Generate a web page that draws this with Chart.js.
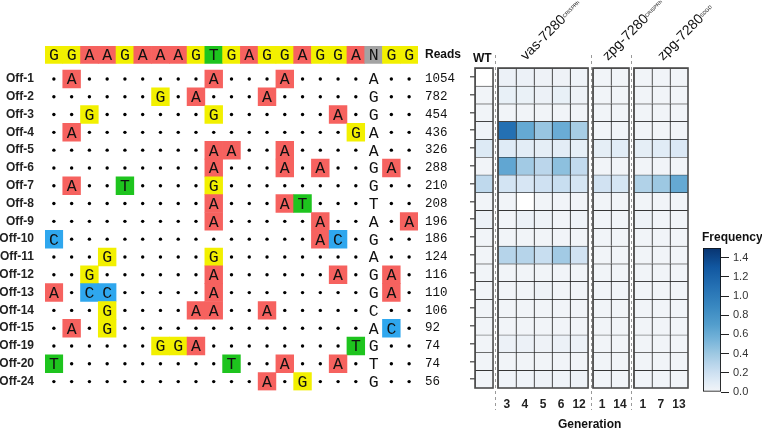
<!DOCTYPE html>
<html>
<head>
<meta charset="utf-8">
<script src="https://cdn.jsdelivr.net/npm/chart.js@4.4.1/dist/chart.umd.min.js"></script>
<style>
  html, body { margin: 0; padding: 0; background: #fff; overflow: hidden; }
  #fig { position: relative; width: 762px; height: 429px; overflow: hidden; font-family: "Liberation Sans", Arial, sans-serif; }
  canvas { position: absolute; }
  .lab { position: absolute; white-space: nowrap; color: #111; font-weight: bold; font-size: 12px; line-height: 14px; }
  .rot { position: absolute; white-space: nowrap; font-size: 14px; line-height: 15px; color: #111;
         transform: rotate(-45deg); transform-origin: 0 100%; }
  .rot sup { font-size: 5px; vertical-align: 3px; }
</style>
</head>
<body>
<div id="fig">
  <canvas id="seq" width="480" height="429" style="left:0;top:0"></canvas>
  <canvas id="heat" width="260" height="434" style="left:440px;top:0"></canvas>
  <canvas id="cbar" width="72" height="175" style="left:690px;top:230px"></canvas>
  <div class="lab" style="left:473px;top:51px">WT</div>
  <div class="rot" style="left:528px;top:48px">vas-7280<sup>CRISPRh</sup></div>
  <div class="rot" style="left:610px;top:48px">zpg-7280<sup>CRISPRh</sup></div>
  <div class="rot" style="left:665px;top:48px">zpg-7280<sup>SDGD</sup></div>
  <div class="lab" style="left:702px;top:230px">Frequency</div>
  <div class="lab" style="left:558px;top:417px">Generation</div>
</div>
<script>
  // target site (last three = PAM)
  const target = ['G','G','A','A','G','A','A','A','G','T','G','A','G','G','A','G','G','A','N','G','G'];
  const offLabels = ['Off-1','Off-2','Off-3','Off-4','Off-5','Off-6','Off-7','Off-8','Off-9',
    'Off-10','Off-11','Off-12','Off-13','Off-14','Off-15','Off-19','Off-20','Off-24'];
  const reads = [1054, 782, 454, 436, 326, 288, 210, 208, 196, 186, 124, 116, 110, 106, 92, 74, 74, 56];
  // '.' = matches target
  const offSeqs = [
    '.A.......A...A....A..',
    '......G.A...A.....G..',
    '..G......G......A.G..',
    '.A...............GA..',
    '.........AA..A....A..',
    '.........A...A.A..GA.',
    '.A..T....G........G..',
    '.........A...AT...T..',
    '.........A.....A..A.A',
    'C..............AC.G..',
    '...G.....G........A..',
    '..G......A......A.GA.',
    'A.CC.....A........GA.',
    '...G....AA..A.....C..',
    '.A.G..............AC.',
    '......GGA........TG..',
    'T.........T..A..A.T..',
    '............A.G...G..',
  ];

  // heatmap columns
  const colLabels = ['', '3', '4', '5', '6', '12', '1', '14', '1', '7', '13'];
  const colGroup = [0, 1, 1, 1, 1, 1, 2, 2, 3, 3, 3];
  // frequencies per row (Off-1 .. Off-24), null = no data
  const freqWT = [null, 0.01, 0.01, 0.02, 0.12, 0.01, 0.26, 0.01, 0.04, 0.01, 0.01, 0.01, 0.01, 0.01, 0.01, 0.01, 0.01, 0.01];
  const freqVas = [
    [0.04, 0.04, 0.03, 0.03, 0.02],
    [0.06, 0.05, 0.04, 0.06, 0.03],
    [0.01, 0.01, 0.01, 0.01, 0.01],
    [1.10, 0.62, 0.42, 0.60, 0.36],
    [0.11, 0.09, 0.08, 0.09, 0.07],
    [0.64, 0.38, 0.28, 0.46, 0.25],
    [0.17, 0.15, 0.19, 0.22, 0.16],
    [0.01, null, 0.01, 0.01, 0.01],
    [0.01, 0.04, 0.03, 0.01, 0.02],
    [0.01, 0.01, 0.01, 0.01, 0.01],
    [0.30, 0.30, 0.22, 0.38, 0.18],
    [0.01, 0.01, 0.01, 0.01, 0.01],
    [0.01, 0.01, 0.03, 0.01, 0.01],
    [0.01, 0.01, 0.01, 0.01, 0.01],
    [0.01, 0.01, 0.01, 0.01, 0.01],
    [0.04, 0.04, 0.03, 0.04, 0.04],
    [0.01, 0.01, 0.01, 0.01, 0.01],
    [0.02, 0.02, 0.03, 0.02, 0.03],
  ];
  const freqZpgC = [
    [0.01, 0.01], [0.01, 0.01], [0.01, 0.01], [0.01, 0.01], [0.08, 0.10], [0.01, 0.01],
    [0.18, 0.16], [0.01, 0.01], [0.01, 0.01], [0.01, 0.01], [0.01, 0.01], [0.01, 0.01],
    [0.01, 0.01], [0.01, 0.01], [0.01, 0.01], [0.01, 0.01], [0.01, 0.01], [0.01, 0.01],
  ];
  const freqZpgS = [
    [0.01, 0.01, 0.01], [0.01, 0.01, 0.01], [0.01, 0.01, 0.01], [0.01, 0.01, 0.01],
    [0.08, 0.10, 0.13], [0.01, 0.01, 0.01], [0.32, 0.40, 0.62], [0.01, 0.01, 0.01],
    [0.03, 0.01, 0.01], [0.01, 0.01, 0.01], [0.01, 0.01, 0.01], [0.01, 0.01, 0.01],
    [0.01, 0.01, 0.01], [0.01, 0.01, 0.01], [0.01, 0.01, 0.01], [0.01, 0.01, 0.01],
    [0.01, 0.01, 0.01], [0.01, 0.01, 0.01],
  ];
  const cbarTicks = [0, 0.2, 0.4, 0.6, 0.8, 1.0, 1.2, 1.4];
  const cbarMax = 1.5;

  const baseColors = { A: '#f6625f', G: '#f2f000', T: '#1ec41e', C: '#2fa7ee', N: '#a3a3a3' };
  const freqStops = [[0, '#f3f5f8'], [0.1, '#e1ecf6'], [0.2, '#cde0f1'], [0.3, '#b6d4ea'], [0.4, '#9dc8e2'],
    [0.55, '#75b3d9'], [0.7, '#539ecd'], [0.9, '#3887c0'], [1.1, '#2470b3'], [1.3, '#1157a0'], [1.5, '#083470']];

  Chart.defaults.font.family = '"Liberation Sans", Arial, sans-serif';
  Chart.defaults.color = '#222';
  Chart.defaults.animation = false;
  Chart.defaults.plugins.legend.display = false;
  Chart.defaults.plugins.tooltip.enabled = false;

  function hexRgb(h) { const n = parseInt(h.slice(1), 16); return [n >> 16, (n >> 8) & 255, n & 255]; }
  function colorFor(v) {
    if (v === null) return '#ffffff';
    v = Math.max(0, Math.min(cbarMax, v));
    for (let i = 1; i < freqStops.length; i++) {
      if (v <= freqStops[i][0]) {
        const [v0, c0] = freqStops[i - 1], [v1, c1] = freqStops[i];
        const t = (v - v0) / (v1 - v0), a = hexRgb(c0), b = hexRgb(c1);
        return 'rgb(' + a.map((x, k) => Math.round(x + (b[k] - x) * t)).join(',') + ')';
      }
    }
    return freqStops[freqStops.length - 1][1];
  }

  /* ---------- alignment panel ---------- */
  const HEAD = -1.35;
  const pamCol = target.indexOf('N') + 1;
  const boxData = [], boxColors = [], dotData = [], letterData = [];
  target.forEach((b, i) => {
    boxData.push({ x: i + 1, y: [HEAD - 0.48, HEAD + 0.48] });
    boxColors.push(baseColors[b]);
    letterData.push({ x: i + 1, y: HEAD, t: b });
  });
  offSeqs.forEach((s, r) => s.split('').forEach((c, i) => {
    if (c === '.') { dotData.push({ x: i + 1, y: r }); return; }
    letterData.push({ x: i + 1, y: r, t: c });
    if (i + 1 !== pamCol) { boxData.push({ x: i + 1, y: [r - 0.5, r + 0.5] }); boxColors.push(baseColors[c]); }
  }));

  const letterPlugin = {
    id: 'letters',
    afterDatasetsDraw(chart) {
      const { ctx, scales: { x, y } } = chart;
      ctx.save();
      ctx.font = '16.5px "Liberation Mono", "Courier New", monospace';
      ctx.textAlign = 'center'; ctx.textBaseline = 'middle'; ctx.fillStyle = '#111';
      letterData.forEach((d) => ctx.fillText(d.t, x.getPixelForValue(d.x), y.getPixelForValue(d.y) + 1));
      ctx.restore();
    },
  };

  new Chart(document.getElementById('seq'), {
    type: 'bar',
    data: {
      datasets: [
        { type: 'bar', data: boxData, backgroundColor: boxColors, borderWidth: 0,
          barPercentage: 1, categoryPercentage: 1, grouped: false },
        { type: 'scatter', data: dotData, pointRadius: 1.7, pointBackgroundColor: '#000', pointBorderWidth: 0 },
      ],
    },
    options: {
      responsive: false,
      layout: { padding: { top: 46, bottom: 38.5, left: 0, right: 0 } },
      scales: {
        x: { type: 'linear', min: 0.5, max: 21.5, offset: false, display: false,
          afterBuildTicks: (s) => { s.ticks = target.map((_, i) => ({ value: i + 1 })); } },
        y: { type: 'linear', reverse: true, min: -1.85, max: 17.5, position: 'left',
          afterBuildTicks: (s) => { s.ticks = offLabels.map((_, i) => ({ value: i })); },
          afterFit: (s) => { s.width = 45; },
          grid: { display: false, drawTicks: false }, border: { display: false },
          ticks: { autoSkip: false, padding: 11, color: '#222', font: { size: 12, weight: 'bold' },
            callback: (v) => offLabels[v] } },
        y2: { type: 'linear', reverse: true, min: -1.85, max: 17.5, position: 'right',
          afterBuildTicks: (s) => { s.ticks = [{ value: HEAD }].concat(reads.map((_, i) => ({ value: i }))); },
          afterFit: (s) => { s.width = 62; },
          grid: { display: false, drawTicks: false }, border: { display: false },
          ticks: { autoSkip: false, padding: 7, color: '#111',
            font: (c) => (c.index === 0
              ? { size: 12, weight: 'bold', family: '"Liberation Sans", Arial, sans-serif' }
              : { size: 12.5, weight: 'normal', family: '"Liberation Mono", "Courier New", monospace' }),
            callback: (v, i) => (i === 0 ? 'Reads' : String(reads[i - 1])) } },
      },
    },
    plugins: [letterPlugin],
  });

  /* ---------- heatmap ---------- */
  const GAP = 0.27;
  const colX = colGroup.map((g, i) => i + g * GAP);
  const freqRows = offLabels.map((_, r) => [freqWT[r]].concat(freqVas[r], freqZpgC[r], freqZpgS[r]));
  const heatSets = freqRows.map((row, r) => ({
    data: colX.map((x) => ({ x, y: [r, r + 1] })),
    backgroundColor: row.map(colorFor),
    borderColor: '#1a1a1a',
    borderWidth: { top: 1, left: 1, right: 0, bottom: 0 },
    borderSkipped: false,
    barPercentage: 1, categoryPercentage: 1, grouped: false,
  }));

  const groupPlugin = {
    id: 'groups',
    afterDraw(chart) {
      const { ctx, scales: { x, y } } = chart;
      const groups = [...new Set(colGroup)];
      const edges = groups.map((g) => {
        const xs = colX.filter((_, i) => colGroup[i] === g);
        return [x.getPixelForValue(xs[0] - 0.5), x.getPixelForValue(xs[xs.length - 1] + 0.5)];
      });
      const top = y.getPixelForValue(0), bottom = y.getPixelForValue(offLabels.length);
      ctx.save();
      ctx.strokeStyle = '#4d4d4d'; ctx.lineWidth = 1.6;
      edges.forEach(([l, r]) => ctx.strokeRect(l, top, r - l, bottom - top));
      ctx.strokeStyle = '#9a9a9a'; ctx.lineWidth = 1; ctx.setLineDash([3, 3]);
      for (let i = 1; i < edges.length; i++) {
        const xm = Math.round((edges[i - 1][1] + edges[i][0]) / 2) + 0.5;
        ctx.beginPath(); ctx.moveTo(xm, top - 13); ctx.lineTo(xm, bottom + 22); ctx.stroke();
      }
      ctx.restore();
    },
  };

  new Chart(document.getElementById('heat'), {
    type: 'bar',
    data: { datasets: heatSets },
    options: {
      responsive: false,
      layout: { padding: { top: 68, bottom: 0, left: 25, right: 12 } },
      scales: {
        x: { type: 'linear', min: -0.5, max: colX[colX.length - 1] + 0.5, offset: false,
          afterBuildTicks: (s) => { s.ticks = colX.map((v) => ({ value: v })); },
          afterFit: (s) => { s.height = 46; },
          grid: { display: false, drawTicks: false }, border: { display: false },
          ticks: { autoSkip: false, maxRotation: 0, padding: 9, color: '#222',
            font: { size: 12, weight: 'bold' }, callback: (v, i) => colLabels[i] } },
        y: { type: 'linear', reverse: true, min: 0, max: offLabels.length,
          afterBuildTicks: (s) => { s.ticks = offLabels.map((_, i) => ({ value: i + 0.5 })); },
          afterFit: (s) => { s.width = 10; },
          grid: { display: true, drawOnChartArea: false, drawTicks: true, tickLength: 5, color: '#666', lineWidth: 1.5 },
          border: { display: false },
          ticks: { autoSkip: false, padding: 0, callback: () => '' } },
      },
    },
    plugins: [groupPlugin],
  });

  /* ---------- colour bar ---------- */
  new Chart(document.getElementById('cbar'), {
    type: 'bar',
    data: {
      labels: ['Frequency'],
      datasets: [{
        data: [[0, cbarMax]],
        backgroundColor: (c) => {
          const a = c.chart.chartArea;
          if (!a) return '#ccc';
          const g = c.chart.ctx.createLinearGradient(0, a.bottom, 0, a.top);
          freqStops.forEach(([v, col]) => g.addColorStop(v / cbarMax, col));
          return g;
        },
        borderColor: '#111', borderWidth: 1.2, borderSkipped: false,
        barPercentage: 1, categoryPercentage: 1,
      }],
    },
    options: {
      responsive: false,
      layout: { padding: { top: 18, bottom: 13, left: 13, right: 0 } },
      scales: {
        x: { display: false },
        y: { position: 'right', min: 0, max: cbarMax,
          afterBuildTicks: (s) => { s.ticks = cbarTicks.map((v) => ({ value: v })); },
          afterFit: (s) => { s.width = 41; },
          grid: { drawOnChartArea: false, drawTicks: true, tickLength: 8, color: '#222', lineWidth: 1 },
          border: { display: false },
          ticks: { padding: 4, color: '#333', font: { size: 11 }, callback: (v) => v.toFixed(1) } },
      },
    },
  });
</script>
</body>
</html>
